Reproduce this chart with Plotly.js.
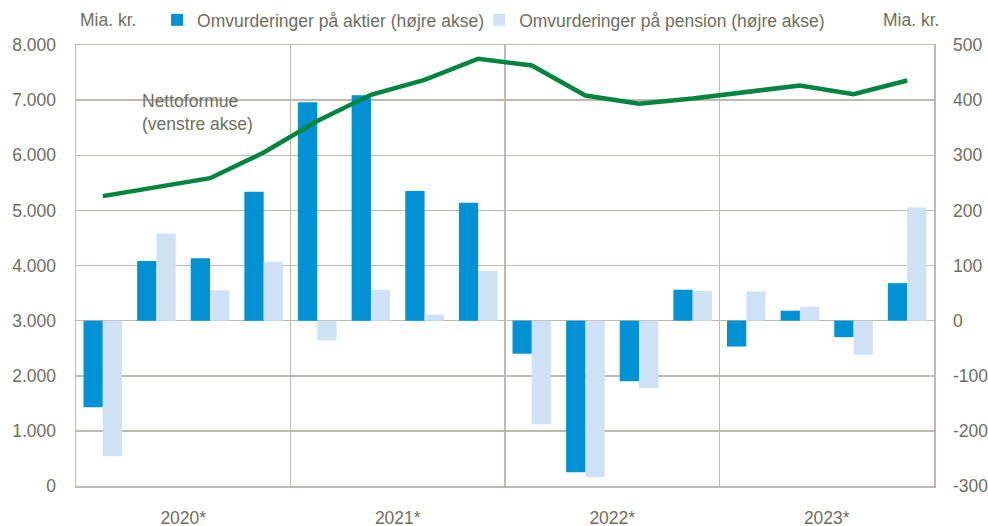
<!DOCTYPE html>
<html>
<head>
<meta charset="utf-8">
<script src="https://cdn.plot.ly/plotly-3.0.1.min.js"></script>
<style>html,body{margin:0;padding:0;background:#fff}#chart{width:988px;height:526px}</style>
</head>
<body>
<div id="chart"></div>
<script>
const quarters = ['2020K1','2020K2','2020K3','2020K4','2021K1','2021K2','2021K3','2021K4',
                  '2022K1','2022K2','2022K3','2022K4','2023K1','2023K2','2023K3','2023K4'];
const years = ['2020*','2021*','2022*','2023*'];
const aktier = [-157,108,113,234,396,409,235,214,-60,-275,-110,56,-47,18,-30,68];
const pension = [-246,158,55,107,-36,56,11,90,-188,-284,-122,54,53,25,-62,205];
const nettoformue = [5258,5420,5584,6050,6620,7096,7368,7750,7628,7084,6933,7029,7138,7265,7109,7356];
const rightTicks = [-300,-200,-100,0,100,200,300,400,500];
const rightTickText = ['-300','-200','-100','0','100','200','300','400','500'];

const xpos = quarters.map((q,i)=>i+0.5);
const yearPos = years.map((y,i)=>i*4+2);

const txt = '#6E6E5E';
const grid = '#BDBBAE';
const fnt = '"Liberation Sans", Arial, sans-serif';
const fs = 17.5;

const traces = [
  {type:'bar', name:'Omvurderinger på aktier (højre akse)', x:xpos, y:aktier, yaxis:'y', legend:'legend',
   marker:{color:'#0092D4', line:{width:0}}, hoverinfo:'y'},
  {type:'bar', name:'Omvurderinger på pension (højre akse)', x:xpos, y:pension, yaxis:'y', legend:'legend2',
   marker:{color:'#CFE2F5', line:{width:0}}, hoverinfo:'y'},
  {type:'scatter', mode:'lines', name:'Nettoformue', x:xpos, y:nettoformue, yaxis:'y2',
   line:{color:'#00853E', width:4.5}, showlegend:false}
];

const legendBase = {orientation:'h', xref:'container', yref:'container', xanchor:'left', y:0.962, yanchor:'middle',
          font:{size:fs, color:txt}, itemwidth:30, bgcolor:'rgba(0,0,0,0)'};

const layout = {
  width:988, height:526,
  margin:{l:76, r:54, t:45, b:40, autoexpand:false},
  paper_bgcolor:'#fff', plot_bgcolor:'#fff',
  separators:',.',
  font:{family:fnt, size:fs, color:txt},
  barmode:'group', bargap:0.28, bargroupgap:0,
  showlegend:true,
  legend:Object.assign({}, legendBase, {x:0.159}),
  legend2:Object.assign({}, legendBase, {x:0.485}),
  xaxis:{range:[0,16], tickmode:'array', tickvals:yearPos, ticktext:years,
         showgrid:false, zeroline:false, showline:true, mirror:true, linecolor:grid, linewidth:1.5,
         ticks:'', ticklabelstandoff:15,
         minor:{tick0:0, dtick:4, showgrid:true, gridcolor:grid, gridwidth:1.5, ticks:''}},
  yaxis:{side:'right', range:[-300,500], tickmode:'array', tickvals:rightTicks, ticktext:rightTickText,
         showgrid:true, gridcolor:grid, gridwidth:1.5, zeroline:false,
         showline:true, mirror:true, linecolor:grid, linewidth:1.5, ticks:'', ticklabelstandoff:14},
  yaxis2:{side:'left', overlaying:'y', range:[0,8000], dtick:1000, tickformat:',d',
          showgrid:false, zeroline:false, showline:false, ticks:'', ticklabelstandoff:19},
  annotations:[
    {text:'Mia. kr.', xref:'paper', yref:'paper', x:0.002, xanchor:'left', y:1.057, yanchor:'middle',
     showarrow:false, font:{size:fs, color:txt}},
    {text:'Mia. kr.', xref:'paper', yref:'paper', x:1.008, xanchor:'right', y:1.057, yanchor:'middle',
     showarrow:false, font:{size:fs, color:txt}},
    {text:'Nettoformue<br>(venstre akse)', xref:'x', yref:'y2', x:2.26, y:6780, xanchor:'center', yanchor:'middle',
     align:'left', showarrow:false, font:{size:fs, color:txt}}
  ]
};

Plotly.newPlot('chart', traces, layout, {displayModeBar:false, staticPlot:true});
</script>
</body>
</html>
